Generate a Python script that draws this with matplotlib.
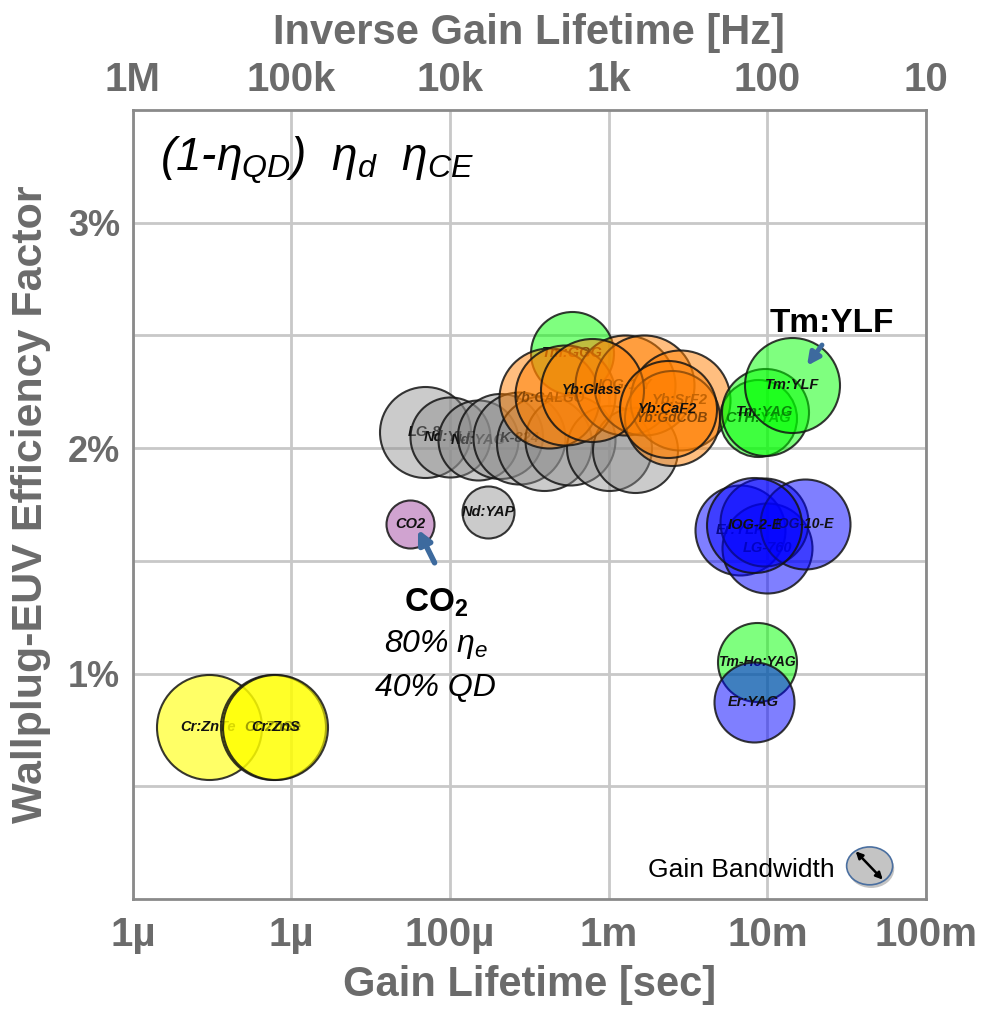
import numpy as np
import matplotlib.pyplot as plt
from matplotlib.colors import to_rgba
from matplotlib.patches import Ellipse
from matplotlib.ticker import NullLocator, FixedLocator

plt.rcParams['font.family'] = ['Liberation Sans', 'DejaVu Sans']
plt.rcParams['mathtext.fontset'] = 'custom'
plt.rcParams['mathtext.it'] = 'Liberation Sans:italic'
plt.rcParams['mathtext.rm'] = 'Liberation Sans'
plt.rcParams['mathtext.bf'] = 'Liberation Sans:bold'

# bubbles, back to front: gain lifetime [s], efficiency factor [%], gain bandwidth (arb.)
names = ['Cr:ZnTe', 'Cr:ZnSe', 'Cr:ZnS',
         'Nd:YAP', 'LG-8', 'Nd:YLF', 'Nd:YAG', '', 'K-824', '', '', '', '',
         'Tm:GGG',
         'Yb:CALGO', '', 'IOG-1-Y', '', 'Yb:SrF2', 'Yb:GdCOB', 'Yb:Glass', 'Yb:CaF2',
         'CTH:YAG', 'Tm:YAG', 'Tm:YLF',
         'Er:YLF', 'LG-760', '', 'IOG-10-E', 'IOG-2-E',
         'Tm-Ho:YAG', 'Er:YAG',
         'CO2']
lifetime = [3.0e-6, 7.6e-6, 7.9e-6,
            1.74e-4, 6.9e-5, 1.0e-4, 1.5e-4, 2.05e-4, 2.73e-4, 3.9e-4, 5.7e-4, 1.0e-3, 1.46e-3,
            5.9e-4,
            4.2e-4, 5.3e-4, 1.26e-3, 1.68e-3, 2.8e-3, 2.5e-3, 7.8e-4, 2.35e-3,
            8.7e-3, 9.6e-3, 1.43e-2,
            6.7e-3, 1.0e-2, 9.5e-3, 1.72e-2, 8.3e-3,
            8.6e-3, 8.2e-3,
            5.6e-5]
efficiency = [0.764, 0.762, 0.762,
              1.716, 2.071, 2.049, 2.036, 2.053, 2.044, 2.022, 2.036, 2.0, 1.991,
              2.422,
              2.222, 2.236, 2.28, 2.28, 2.213, 2.133, 2.258, 2.173,
              2.133, 2.16, 2.28,
              1.636, 1.556, 1.671, 1.662, 1.658,
              1.053, 0.876,
              1.662]
bandwidth = [10.5, 10.5, 10.5,
             5.2, 9.1, 8.0, 8.0, 8.5, 9.2, 9.5, 9.0, 8.5, 8.5,
             8.3,
             10.0, 10.0, 10.0, 10.0, 10.0, 9.5, 10.3, 9.7,
             7.7, 8.7, 9.5,
             9.0, 9.0, 8.8, 9.0, 9.5,
             7.9, 8.0,
             4.8]
group = ['yellow'] * 3 + ['gray'] * 10 + ['green'] + ['orange'] * 8 + ['green'] * 3 \
        + ['blue'] * 5 + ['green', 'blue', 'purple']

bottom_ticks = [1e-6, 1e-5, 1e-4, 1e-3, 1e-2, 1e-1]
bottom_labels = ['1µ', '1µ', '100µ', '1m', '10m', '100m']
top_ticks = [1e6, 1e5, 1e4, 1e3, 1e2, 1e1]
top_labels = ['1M', '100k', '10k', '1k', '100', '10']
y_ticks = [1, 2, 3]
y_labels = ['1%', '2%', '3%']

colors = {'yellow': ('#ffff00', 0.6), 'gray': ('#8c8c8c', 0.45), 'green': ('#00ff00', 0.5),
          'orange': ('#ff7f00', 0.5), 'blue': ('#0000ff', 0.5), 'purple': ('#b266b2', 0.6)}
axis_grey = '#6b6b6b'
arrow_blue = '#3d6a9e'

fig = plt.figure(figsize=(9.84, 10.09), dpi=100)
ax = fig.add_axes([0.135, 0.109, 0.806, 0.782])
ax.set_xscale('log')
ax.set_xlim(1e-6, 1e-1)
ax.set_ylim(0, 3.5)

for i, (n, t, e, bw, g) in enumerate(zip(names, lifetime, efficiency, bandwidth, group)):
    fc, a = colors[g]
    ax.scatter(t, e, s=(bw * 7.2) ** 2, facecolor=to_rgba(fc, a),
               edgecolors=(0.08, 0.08, 0.08, 0.85), linewidths=1.5, zorder=3 + 2 * i)
    ax.text(t, e, n, ha='center', va='center', fontsize=10.5 if len(n) < 8 else 10,
            fontweight='bold', fontstyle='italic', color='#111111', zorder=4 + 2 * i)

# axes styling
ax.xaxis.set_major_locator(FixedLocator(bottom_ticks))
ax.xaxis.set_minor_locator(NullLocator())
ax.set_xticklabels(bottom_labels)
ax.set_yticks(y_ticks)
ax.set_yticklabels(y_labels)
ax.set_yticks([0.5, 1.5, 2.5], minor=True)
ax.grid(True, which='both', color='#c8c8c8', lw=2)
ax.set_axisbelow(True)
ax.tick_params(which='both', length=0)
ax.tick_params(axis='x', pad=12, labelsize=29, labelcolor=axis_grey)
ax.tick_params(axis='y', pad=9, labelsize=26, labelcolor=axis_grey)
for lab in ax.get_xticklabels() + ax.get_yticklabels():
    lab.set_fontweight('bold')
for sp in ax.spines.values():
    sp.set_color('#8a8a8a')
    sp.set_linewidth(2)

ax.set_xlabel('Gain Lifetime [sec]', fontsize=30, fontweight='bold', color=axis_grey, labelpad=8)
ax.set_ylabel('Wallplug-EUV Efficiency Factor', fontsize=31, fontweight='bold', color=axis_grey,
              labelpad=12)

inv = lambda x: 1 / x
top = ax.secondary_xaxis('top', functions=(inv, inv))
top.xaxis.set_major_locator(FixedLocator(top_ticks))
top.xaxis.set_minor_locator(NullLocator())
top.set_xticklabels(top_labels)
top.tick_params(which='both', length=0, pad=8, labelsize=29, labelcolor=axis_grey)
for lab in top.get_xticklabels():
    lab.set_fontweight('bold')
top.set_xlabel('Inverse Gain Lifetime [Hz]', fontsize=30, fontweight='bold', color=axis_grey,
               labelpad=12)
top.spines['top'].set_visible(False)

# annotations
ax.text(0.034, 0.937, r'(1-$\eta_{QD}$)  $\eta_d$  $\eta_{CE}$', transform=ax.transAxes,
        fontsize=33, fontstyle='italic', ha='left', va='center', zorder=100)
ax.text(0.881, 0.730, 'Tm:YLF', transform=ax.transAxes, fontsize=24, fontweight='bold',
        ha='center', va='center', zorder=100)
ax.annotate('', xy=(0.848, 0.673), xytext=(0.871, 0.705), xycoords='axes fraction',
            arrowprops=dict(arrowstyle='-|>', color=arrow_blue, lw=3.5, mutation_scale=18),
            zorder=100)
ax.text(0.382, 0.375, r'CO$_\mathbf{2}$', transform=ax.transAxes, fontsize=24, fontweight='bold',
        ha='center', va='center', zorder=100)
ax.text(0.382, 0.322, r'80% $\eta_e$', transform=ax.transAxes, fontsize=23, fontstyle='italic',
        ha='center', va='center', zorder=100)
ax.text(0.382, 0.267, '40% QD', transform=ax.transAxes, fontsize=23, fontstyle='italic',
        ha='center', va='center', zorder=100)
ax.annotate('', xy=(0.358, 0.4715), xytext=(0.382, 0.423), xycoords='axes fraction',
            arrowprops=dict(arrowstyle='-|>', color=arrow_blue, lw=4, mutation_scale=20),
            zorder=100)

# gain bandwidth key
ax.text(0.885, 0.037, 'Gain Bandwidth', transform=ax.transAxes, fontsize=19,
        ha='right', va='center', zorder=100)
ax.add_patch(Ellipse((0.931, 0.038), 0.058, 0.048, transform=ax.transAxes,
                     facecolor='#555555', alpha=0.35, edgecolor='none', zorder=99))
ax.add_patch(Ellipse((0.929, 0.042), 0.058, 0.048, transform=ax.transAxes,
                     facecolor='#c4c4c4', edgecolor='#4a6fa0', lw=1.2, zorder=100))
ax.annotate('', xy=(0.948, 0.022), xytext=(0.909, 0.063), xycoords='axes fraction',
            arrowprops=dict(arrowstyle='<|-|>', color='black', lw=1.8, mutation_scale=10),
            zorder=101)

fig.savefig('out.png', dpi=100)
